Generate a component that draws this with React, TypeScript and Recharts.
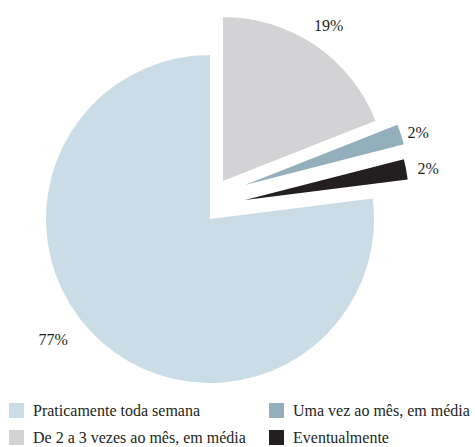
import React from 'react';
import { PieChart, Pie, Cell } from 'recharts';

// slices in drawing order, clockwise from 12 o'clock
const categories = [
  'De 2 a 3 vezes ao mês, em média',
  'Uma vez ao mês, em média',
  'Eventualmente',
  'Praticamente toda semana',
];
const shares = [19, 2, 2, 77];
const legendOrder = [
  'Praticamente toda semana',
  'Uma vez ao mês, em média',
  'De 2 a 3 vezes ao mês, em média',
  'Eventualmente',
];

const colors: Record<string, string> = {
  'Praticamente toda semana': '#cadde6',
  'Uma vez ao mês, em média': '#93afbb',
  'De 2 a 3 vezes ao mês, em média': '#d3d3d5',
  Eventualmente: '#231f20',
};

// explode offsets (px) and label placement per slice
const explode = [
  { dx: 13, dy: -38, lr: 24, la: 0 },
  { dx: 35, dy: -34, lr: 17, la: -1 },
  { dx: 35, dy: -19, lr: 22, la: -1 },
  { dx: 0, dy: 0, lr: 34, la: -11 },
];

const CX = 210;
const CY = 219;
const R = 164;
const FONT = '"Liberation Serif", "Times New Roman", serif';
const RAD = Math.PI / 180;

const data = categories.map((name, i) => ({ name, value: shares[i] }));

const makeLabel = (own: number) => (props: any) => {
  if (props.index !== own) return null;
  const { cx, cy, midAngle, outerRadius, value } = props;
  const r = outerRadius + explode[own].lr;
  const a = (midAngle + explode[own].la) * RAD;
  const x = cx + r * Math.cos(-a);
  const y = cy + r * Math.sin(-a);
  return (
    <text x={x} y={y} fill="#231f20" fontSize={16} fontFamily={FONT} textAnchor="middle" dominantBaseline="central">
      {`${value}%`}
    </text>
  );
};

export default function App() {
  return (
    <div style={{ position: 'absolute', left: 0, top: 0, width: 475, height: 447, background: '#fff', fontFamily: FONT }}>
      <PieChart width={475} height={395} margin={{ top: 0, right: 0, bottom: 0, left: 0 }}>
        {explode.map((e, i) => (
          <Pie
            key={categories[i]}
            data={data}
            dataKey="value"
            nameKey="name"
            cx={CX + e.dx}
            cy={CY + e.dy}
            outerRadius={R}
            startAngle={90}
            endAngle={-270}
            stroke="none"
            labelLine={false}
            label={makeLabel(i)}
            isAnimationActive={false}
          >
            {data.map((d, j) => (
              <Cell key={d.name} fill={j === i ? colors[d.name] : 'none'} />
            ))}
          </Pie>
        ))}
      </PieChart>
      <div
        style={{
          position: 'absolute',
          left: 9,
          top: 403,
          display: 'grid',
          gridTemplateColumns: '260px 200px',
          rowGap: 12,
          fontSize: 16,
          color: '#231f20',
        }}
      >
        {legendOrder.map((name) => (
          <div key={name} style={{ display: 'flex', alignItems: 'center', height: 15 }}>
            <span style={{ width: 15, height: 15, background: colors[name], marginRight: 9, flexShrink: 0 }} />
            <span style={{ whiteSpace: 'nowrap' }}>{name}</span>
          </div>
        ))}
      </div>
    </div>
  );
}
